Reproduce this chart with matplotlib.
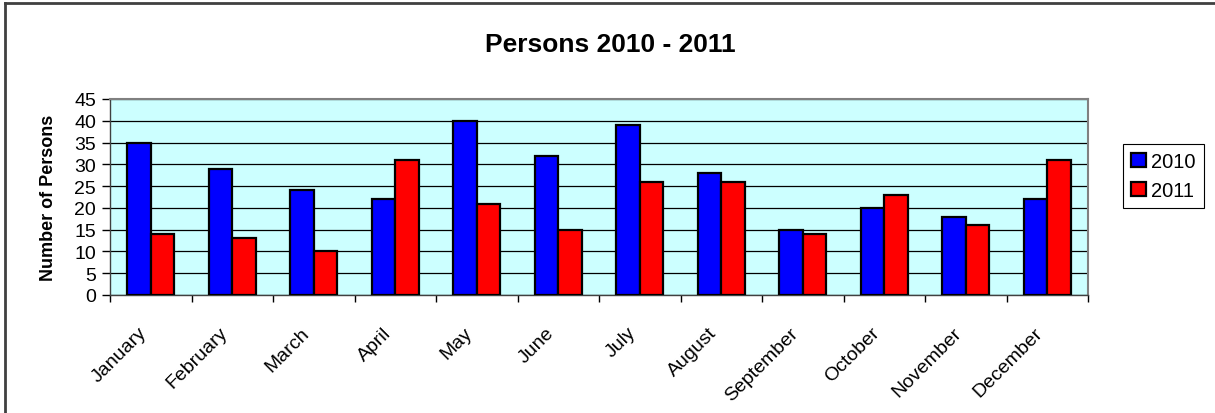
import numpy as np
import matplotlib
matplotlib.use('Agg')
import matplotlib.pyplot as plt
from matplotlib.lines import Line2D
from matplotlib.transforms import ScaledTranslation

plt.rcParams['font.family'] = ['Liberation Sans', 'DejaVu Sans']

months = ['January', 'February', 'March', 'April', 'May', 'June', 'July',
          'August', 'September', 'October', 'November', 'December']
persons_2010 = [35, 29, 24, 22, 40, 32, 39, 28, 15, 20, 18, 22]
persons_2011 = [14, 13, 10, 31, 21, 15, 26, 26, 14, 23, 16, 31]
yticks = [0, 5, 10, 15, 20, 25, 30, 35, 40, 45]

fig = plt.figure(figsize=(12.15, 4.14), dpi=100)
ax = fig.add_axes([110/1215, 1-296/414, 978/1215, 196/414])
ax.set_facecolor('#CCFFFF')

x = np.arange(len(months))
w = 0.286
b1 = ax.bar(x - w/2, persons_2010, w, color='#0000FF', edgecolor='black', linewidth=1.6, label='2010', zorder=3)
b2 = ax.bar(x + w/2, persons_2011, w, color='#FF0000', edgecolor='black', linewidth=1.6, label='2011', zorder=3)

ax.set_xlim(-0.5, len(months) - 0.5)
ax.set_ylim(0, 45)
ax.set_yticks(yticks)
ax.yaxis.grid(True, color='black', linewidth=0.9, zorder=1)
ax.tick_params(axis='y', labelsize=14, length=6, width=1, direction='out', pad=4)

ax.set_xticks(x)
ax.set_xticklabels(months, rotation=45, ha='right', va='top', rotation_mode='anchor', fontsize=14)
ax.tick_params(axis='x', which='major', length=0, pad=10)
ax.set_xticks(np.arange(-0.5, len(months)), minor=True)
ax.tick_params(axis='x', which='minor', length=5, width=1, direction='out')
shift = ScaledTranslation(-13/100, -15/100, fig.dpi_scale_trans)
for lbl in ax.get_xticklabels():
    lbl.set_transform(lbl.get_transform() + shift)

for s in ['top', 'right']:
    ax.spines[s].set_color('#808080')
    ax.spines[s].set_linewidth(1.5)
for s in ['left', 'bottom']:
    ax.spines[s].set_color('#404040')
    ax.spines[s].set_linewidth(1)

ax.set_ylabel('Number of Persons', fontsize=13, fontweight='bold')
ax.yaxis.set_label_coords(-0.054, 0.5)

fig.text(0.502, 1-45/414, 'Persons 2010 - 2011', fontsize=19, fontweight='bold',
         ha='center', va='center')

leg = fig.legend(handles=[b1, b2], labels=['2010', '2011'], loc='upper left',
                 bbox_to_anchor=(1123/1215, 1-145/414), fontsize=14.5,
                 fancybox=False, edgecolor='black', framealpha=1,
                 handlelength=0.75, handleheight=0.75, handletextpad=0.25,
                 borderpad=0.4, labelspacing=0.5, borderaxespad=0)
leg.get_frame().set_linewidth(0.8)

# chart area border (only left and top visible)
fig.add_artist(Line2D([5/1215, 5/1215], [0, 1-4/414], color='#404040', linewidth=2))
fig.add_artist(Line2D([5/1215, 1], [1-4/414, 1-4/414], color='#404040', linewidth=2))

fig.savefig('out.png', dpi=100)
